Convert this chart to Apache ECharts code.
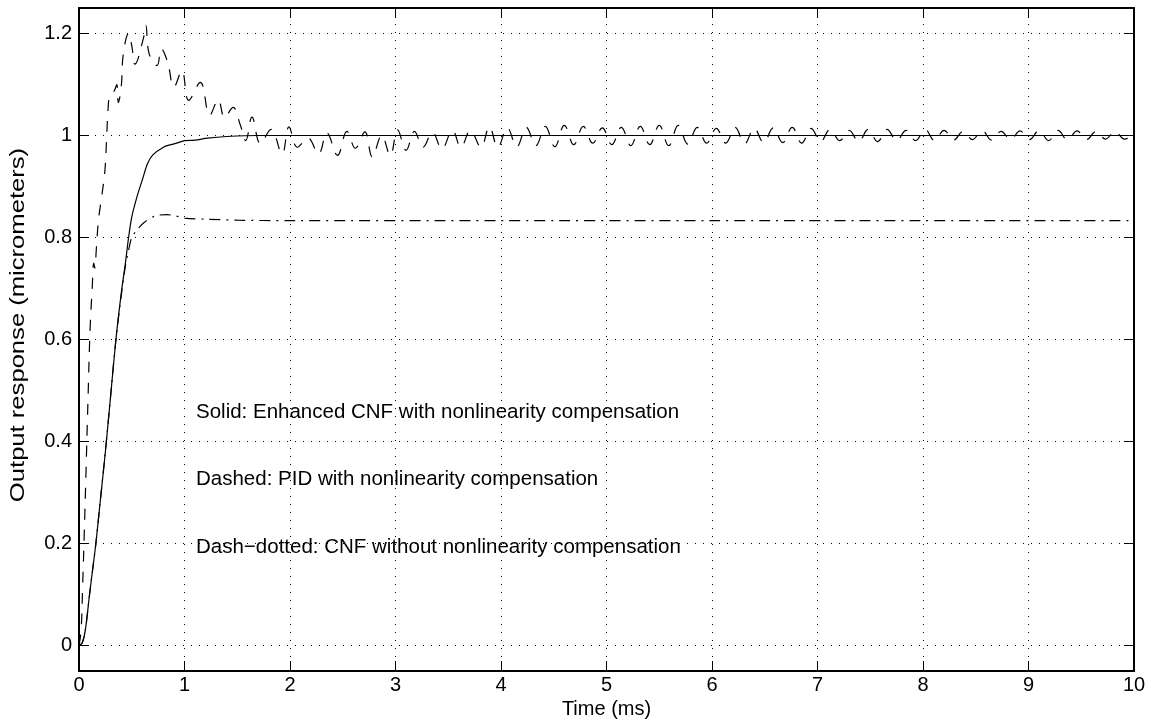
<!DOCTYPE html>
<html>
<head>
<meta charset="utf-8">
<title>Output response</title>
<script src="https://cdn.jsdelivr.net/npm/echarts@6/dist/echarts.min.js"></script>
<style>
  html, body { margin: 0; padding: 0; background: #fff; }
  #chart { width: 1160px; height: 724px; }
</style>
</head>
<body>
<div id="chart"></div>
<script>
// 坐标轴刻度
var xTicks = [0, 1, 2, 3, 4, 5, 6, 7, 8, 9, 10];
var yTicks = [0, 0.2, 0.4, 0.6, 0.8, 1, 1.2];

// Solid: Enhanced CNF with nonlinearity compensation
var solidData = [
  [0, 0], [0.03, 0.005], [0.06, 0.03], [0.1, 0.1], [0.13, 0.15], [0.16, 0.2],
  [0.2, 0.28], [0.25, 0.38], [0.3, 0.49], [0.35, 0.6], [0.4, 0.69], [0.44, 0.75],
  [0.47, 0.8], [0.5, 0.84], [0.55, 0.88], [0.6, 0.913], [0.65, 0.945], [0.7, 0.962],
  [0.8, 0.977], [0.87, 0.982], [0.94, 0.986], [1.0, 0.99], [1.1, 0.991], [1.22, 0.995],
  [1.4, 0.998], [1.7, 1.0], [2.5, 1.0], [4, 1.0], [6, 1.0], [8, 1.0], [10, 1.0]
];

// Dashed: PID with nonlinearity compensation
var dashedData = [
  [0, 0], [0.02, 0.03], [0.035, 0.12], [0.05, 0.22], [0.065, 0.33], [0.085, 0.48],
  [0.105, 0.62], [0.125, 0.7], [0.14, 0.75], [0.15, 0.74], [0.165, 0.78], [0.185, 0.835],
  [0.215, 0.88], [0.245, 0.93], [0.263, 1.0], [0.275, 1.05], [0.29, 1.075], [0.335, 1.088],
  [0.358, 1.1], [0.373, 1.065], [0.4, 1.095], [0.42, 1.16], [0.47, 1.2], [0.5, 1.176],
  [0.53, 1.14], [0.61, 1.19], [0.633, 1.216], [0.665, 1.16], [0.74, 1.137], [0.78, 1.17],
  [0.84, 1.144], [0.9, 1.095], [0.975, 1.127], [1.04, 1.069], [1.15, 1.104], [1.24, 1.04],
  [1.32, 1.07], [1.38, 1.035], [1.46, 1.055], [1.53, 1.02], [1.58, 0.99], [1.64, 1.036],
  [1.72, 0.984], [1.82, 1.012], [1.925, 0.964], [1.99, 1.017], [2.07, 0.977], [2.17, 0.995],
  [2.27, 0.964], [2.35, 1.005], [2.45, 0.961], [2.54, 1.008], [2.62, 0.975], [2.71, 1.007],
  [2.78, 0.958], [2.87, 1.0], [2.95, 0.961], [3.02, 1.011], [3.1, 0.971], [3.18, 1.008],
  [3.26, 0.977], [3.35, 1.006], [3.44, 0.974], [3.54, 1.01], [3.62, 0.977], [3.71, 1.01],
  [3.81, 0.977], [3.89, 1.017], [3.97, 0.977], [4.06, 1.015], [4.15, 0.978], [4.24, 1.016],
  [4.33, 0.98], [4.42, 1.018], [4.51, 0.978], [4.6, 1.02], [4.69, 0.982], [4.78, 1.018],
  [4.87, 0.985], [4.96, 1.015], [5.05, 0.982], [5.14, 1.016], [5.23, 0.98], [5.32, 1.018],
  [5.41, 0.982], [5.5, 1.02], [5.59, 0.98], [5.68, 1.02], [5.77, 0.983], [5.86, 1.016],
  [5.95, 0.985], [6.04, 1.014], [6.13, 0.985], [6.22, 1.016], [6.31, 0.984], [6.4, 1.014],
  [6.49, 0.986], [6.58, 1.015], [6.67, 0.986], [6.76, 1.016], [6.85, 0.985], [6.94, 1.014],
  [7.03, 0.988], [7.12, 1.012], [7.21, 0.99], [7.3, 1.01], [7.39, 0.988], [7.48, 1.012],
  [7.57, 0.988], [7.66, 1.012], [7.75, 0.99], [7.84, 1.01], [7.93, 0.99], [8.02, 1.012],
  [8.11, 0.99], [8.2, 1.01], [8.29, 0.991], [8.38, 1.008], [8.47, 0.992], [8.56, 1.01],
  [8.65, 0.991], [8.74, 1.008], [8.83, 0.992], [8.92, 1.009], [9.01, 0.992], [9.1, 1.01],
  [9.19, 0.99], [9.28, 1.01], [9.37, 0.991], [9.46, 1.009], [9.55, 0.992], [9.64, 1.008],
  [9.73, 0.993], [9.82, 1.008], [9.91, 0.993], [10, 1.0]
];

// Dash-dotted: CNF without nonlinearity compensation
var dashDotData = [
  [0, 0], [0.03, 0.005], [0.06, 0.03], [0.1, 0.1], [0.13, 0.15], [0.16, 0.2],
  [0.2, 0.28], [0.25, 0.38], [0.3, 0.49], [0.35, 0.6], [0.4, 0.685], [0.44, 0.745],
  [0.47, 0.775], [0.5, 0.8], [0.55, 0.815], [0.62, 0.83], [0.72, 0.842], [0.83, 0.845],
  [0.92, 0.842], [1.0, 0.838], [1.2, 0.836], [1.5, 0.834], [2, 0.833], [4, 0.833],
  [6, 0.833], [8, 0.833], [10, 0.833]
];

var notes = [
  "Solid: Enhanced CNF with nonlinearity compensation",
  "Dashed: PID with nonlinearity compensation",
  "Dash\u2212dotted: CNF without nonlinearity compensation"
];

var FONT = '"Liberation Sans", Arial, Helvetica, sans-serif';

var mcharts = echarts.init(document.getElementById("chart"), null, { renderer: "canvas" });

var gridLine = { show: true, lineStyle: { color: "#000", width: 1, type: [1, 7] } };
var boxLine = { show: true, onZero: false, lineStyle: { color: "#000", width: 2 } };
var inTick = { show: true, inside: true, length: 10, lineStyle: { color: "#000", width: 1 } };

function isTick(v) {
  return yTicks.some(function (t) { return Math.abs(t - v) < 1e-6; });
}

// 文字注释 + 纵轴标题（纵向拉长，与原图一致）
var graphics = notes.map(function (txt, i) {
  return {
    type: "text", x: 196, y: [412, 479, 547][i],
    style: { text: txt, fill: "#000", fontSize: 20.5, fontFamily: FONT, verticalAlign: "middle" }
  };
});
graphics.push({
  type: "text", x: 18, y: 325, rotation: Math.PI / 2, scaleX: 1.28,
  style: {
    text: "Output response (micrometers)", fill: "#000", fontSize: 20, fontFamily: FONT,
    align: "center", verticalAlign: "middle"
  }
});

var option = {
  animation: false,
  backgroundColor: "#fff",
  grid: { left: 79, right: 26, top: 8, bottom: 53, containLabel: false, outerBoundsMode: "none" },
  xAxis: [
    {
      type: "value", min: xTicks[0], max: xTicks[xTicks.length - 1], interval: 1,
      axisLine: boxLine, axisTick: inTick, splitLine: gridLine,
      axisLabel: { color: "#000", fontSize: 20, fontFamily: FONT, margin: 4 },
      name: "Time (ms)", nameLocation: "middle", nameGap: 25,
      nameTextStyle: { color: "#000", fontSize: 20, fontFamily: FONT }
    },
    {
      type: "value", position: "top", min: 0, max: 10, interval: 1,
      axisLine: boxLine, axisTick: inTick, splitLine: { show: false },
      axisLabel: { show: false }
    }
  ],
  yAxis: [
    {
      type: "value", min: -0.05, max: 1.25, splitNumber: 6,
      axisLine: boxLine, axisTick: inTick, splitLine: gridLine,
      axisLabel: {
        color: "#000", fontSize: 20, fontFamily: FONT, margin: 7,
        formatter: function (v) { return isTick(v) ? String(Math.round(v * 10) / 10) : ""; }
      }
    },
    {
      type: "value", position: "right", min: -0.05, max: 1.25, splitNumber: 6,
      axisLine: boxLine, axisTick: inTick, splitLine: { show: false },
      axisLabel: { show: false }
    }
  ],
  series: [
    {
      name: "Solid", type: "line", data: solidData, showSymbol: false, symbol: "none",
      smooth: 0.3, lineStyle: { color: "#000", width: 1.2, type: "solid" }
    },
    {
      name: "Dashed", type: "line", data: dashedData, showSymbol: false, symbol: "none",
      smooth: 0.4, lineStyle: { color: "#000", width: 1.2, type: [11, 10] }
    },
    {
      name: "DashDot", type: "line", data: dashDotData, showSymbol: false, symbol: "none",
      smooth: 0.3, lineStyle: { color: "#000", width: 1.2, type: [11, 6, 2, 6] }
    }
  ],
  graphic: graphics
};

mcharts.setOption(option);
</script>
</body>
</html>
